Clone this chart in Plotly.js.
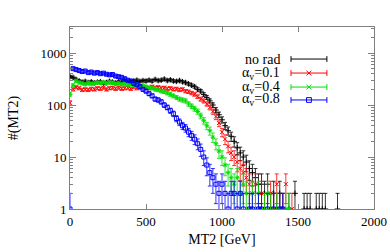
<!DOCTYPE html>
<html>
<head>
<meta charset="utf-8">
<script src="https://cdn.plot.ly/plotly-3.0.1.min.js"></script>
<style>html,body{margin:0;padding:0;background:#fff;}#plot{width:390px;height:252px;}</style>
</head>
<body>
<div id="plot"></div>
<script>
// bin positions (GeV), 20 GeV bins
const mt2 = [];
for (let i = 0; i < 90; i++) mt2.push(i * 20);

const seriesNames = ["no rad", "α<sub>v</sub>=0.1", "α<sub>v</sub>=0.4", "α<sub>v</sub>=0.8"];

const noRad = [350,340,310,290,275,285,270,280,265,275,280,265,270,285,275,265,280,270,290,275,
  280,290,300,285,295,290,300,290,310,295,300,315,295,305,290,285,295,280,270,255,
  240,225,200,185,160,140,120,100,80,65,52,40,32,25,20,15,12,10,8,6,
  5,4,3,3,2,3,1,2,1,2,1,null,1,null,2,null,null,1,1,1,
  null,1,1,1,1,null,null,null,1,null];

const alpha01 = [110,200,220,210,195,200,195,205,200,210,205,215,200,210,215,205,215,205,210,215,
  205,220,210,215,220,215,210,225,215,220,210,215,205,210,200,205,195,200,185,180,
  170,160,145,130,120,105,90,75,60,45,30,22,16,12,10,8,6,5,4,3,
  2,3,1,2,1,null,2,1,3,1,1,3,null,1];

const alpha04 = [160,240,290,270,260,250,265,255,260,270,265,275,260,270,265,255,260,250,255,245,
  250,240,245,230,235,225,215,210,200,195,185,180,170,160,150,140,130,125,120,105,
  95,85,75,62,50,40,32,24,18,13,10,7,5,4,3,4,2,3,2,1,
  2,1,2,1,1,2,1,null,1,1,null,1,1];

const alpha08 = [1,500,480,460,440,450,420,430,410,420,400,410,390,380,385,360,350,340,320,300,
  290,260,245,225,200,185,165,150,130,125,115,100,90,78,68,55,47,40,36,30,
  26,22,18,14,10,7,5,4,3,2,3,2,1,2,2,1,2,1,null,1,
  1,null,1,1,null,1,null,1,null,1,1];

function errs(arr) { return arr.map(v => v == null ? null : Math.sqrt(v)); }

const FONT = "Liberation Serif";
const colors = ["#000000", "#ff0000", "#00e000", "#0000ff"];
const symbols = ["cross-thin-open", "x-thin-open", "asterisk-open", "square-open"];
const datasets = [noRad, alpha01, alpha04, alpha08];

const traces = datasets.map((d, i) => ({
  x: mt2.slice(0, d.length),
  y: d,
  type: "scatter",
  mode: "markers",
  name: seriesNames[i],
  showlegend: false,
  marker: {symbol: symbols[i], size: 4, color: colors[i], line: {color: colors[i], width: 1}},
  error_y: {type: "data", array: errs(d), visible: true, color: colors[i], thickness: 0.8, width: 2},
  cliponaxis: true
}));

// manual legend (gnuplot style: text right, sample on the right)
const rowY = [0.824, 0.747, 0.670, 0.599];
const lx0 = 0.727, lx1 = 0.845, lxc = 0.786, txtX = 0.697;
const shapes = [];
const annotations = [];
rowY.forEach((y, i) => {
  const c = colors[i];
  annotations.push({xref: "paper", yref: "paper", x: txtX, y: y, xanchor: "right", yanchor: "middle",
    text: seriesNames[i], showarrow: false, font: {family: FONT, size: 14, color: "#000"}});
  shapes.push({type: "line", xref: "paper", yref: "paper", x0: lx0, x1: lx1, y0: y, y1: y, line: {color: c, width: 1}});
  [lx0, lx1].forEach(xx => shapes.push({type: "line", xref: "paper", yref: "paper", x0: xx, x1: xx,
    y0: y - 0.016, y1: y + 0.016, line: {color: c, width: 1}}));
  const dx = 0.008, dy = 0.013;
  if (i === 1 || i === 2) {
    shapes.push({type: "line", xref: "paper", yref: "paper", x0: lxc - dx, x1: lxc + dx, y0: y - dy, y1: y + dy, line: {color: c, width: 1}});
    shapes.push({type: "line", xref: "paper", yref: "paper", x0: lxc - dx, x1: lxc + dx, y0: y + dy, y1: y - dy, line: {color: c, width: 1}});
  }
  if (i === 3) {
    shapes.push({type: "rect", xref: "paper", yref: "paper", x0: lxc - dx, x1: lxc + dx, y0: y - dy, y1: y + dy, line: {color: c, width: 1}, fillcolor: "rgba(0,0,0,0)"});
  }
});

const axisCommon = {
  showgrid: false, zeroline: false, showline: true, linecolor: "#808080", linewidth: 1,
  mirror: "ticks", ticks: "inside", tickcolor: "#808080", tickwidth: 1,
  tickfont: {family: FONT, size: 13, color: "#000"}
};

const layout = {
  width: 390, height: 252,
  margin: {l: 70, r: 16, t: 27, b: 43},
  paper_bgcolor: "#fff", plot_bgcolor: "#fff",
  showlegend: false,
  font: {family: FONT},
  xaxis: Object.assign({}, axisCommon, {
    range: [0, 2000], tickvals: [0, 500, 1000, 1500, 2000], ticklen: 5,
    title: {text: "MT2 [GeV]", font: {family: FONT, size: 14, color: "#000"}, standoff: 6}
  }),
  yaxis: Object.assign({}, axisCommon, {
    type: "log", range: [0, 3.5], tickvals: [1, 10, 100, 1000], ticktext: ["1", "10", "100", "1000"], ticklen: 6,
    minor: {tickvals: [2,3,4,5,6,7,8,9,20,30,40,50,60,70,80,90,200,300,400,500,600,700,800,900,2000,3000], ticks: "inside", ticklen: 3, tickcolor: "#808080"},
    title: {text: "#(MT2)", font: {family: FONT, size: 14, color: "#000"}, standoff: 18}
  }),
  shapes: shapes,
  annotations: annotations
};

Plotly.newPlot("plot", traces, layout, {displayModeBar: false, staticPlot: true});
</script>
</body>
</html>
